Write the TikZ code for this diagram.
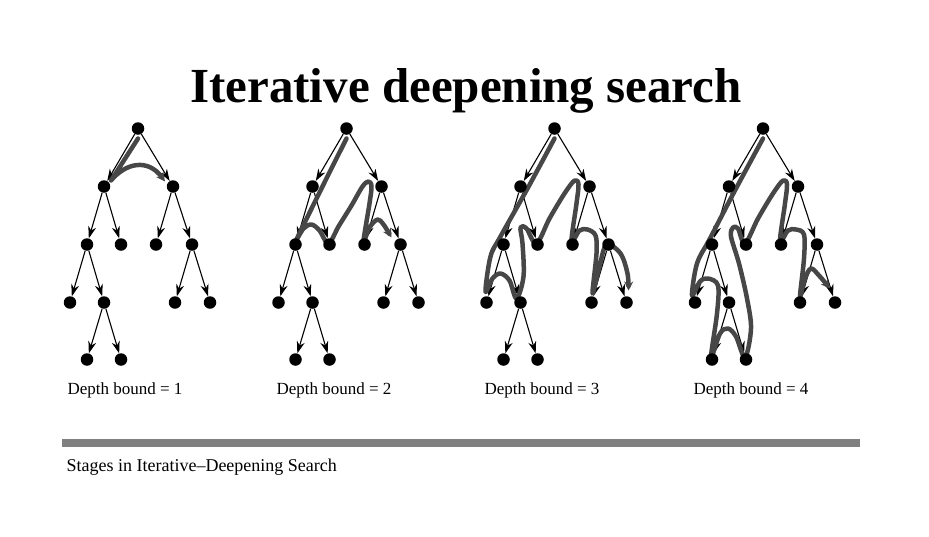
\documentclass[tikz,border=0pt]{standalone}
\usepackage{fontspec}
\setmainfont{Liberation Serif}
\usetikzlibrary{arrows.meta}
\pgfdeclarelayer{edges}
\pgfdeclarelayer{paths}
\pgfsetlayers{edges,paths,main}
\newcommand\idtree[2]{%
\begin{scope}[shift={(#2,128.5)}]
\node[dot] (#1r) at (0,0) {};
\node[dot] (#1a) at (-34,58) {};
\node[dot] (#1b) at (35,58) {};
\node[dot] (#1aa) at (-51,116) {};
\node[dot] (#1ab) at (-17,116) {};
\node[dot] (#1ba) at (18,116) {};
\node[dot] (#1bb) at (54,116) {};
\node[dot] (#1aaa) at (-68,174) {};
\node[dot] (#1aab) at (-34,174) {};
\node[dot] (#1bba) at (37,174) {};
\node[dot] (#1bbb) at (72,174) {};
\node[dot] (#1aaba) at (-51,231) {};
\node[dot] (#1aabb) at (-17,231) {};
\begin{pgfonlayer}{edges}
\foreach \p/\c in {r/a,r/b,a/aa,a/ab,b/ba,b/bb,aa/aaa,aa/aab,bb/bba,bb/bbb,aab/aaba,aab/aabb}
  \draw[edge] (#1\p) -- (#1\c);
\end{pgfonlayer}
\end{scope}}
\begin{document}
\begin{tikzpicture}[x=1pt,y=-1pt,
  dot/.style={circle,fill=black,inner sep=0pt,minimum size=12.5pt},
  edge/.style={-{Stealth[length=12pt,width=8pt]},line width=1.1pt},
  trav/.style={line width=4.5pt,draw=black!72,line cap=round,line join=round},
  travend/.style={trav,-{Stealth[length=9pt,width=9pt]}},
  lab/.style={anchor=base west,font=\fontsize{17}{20}\selectfont},
]
\useasboundingbox (0,0) rectangle (929,536);

\node[anchor=base,font=\fontsize{49}{56}\selectfont\bfseries] (title) at (466,102) {Iterative deepening search};

\idtree{p}{138}
\idtree{q}{346.5}
\idtree{s}{554.5}
\idtree{u}{763}

\begin{pgfonlayer}{paths}
% depth bound 1
\begin{scope}[shift={(138,128.5)}]
\draw[travend] (0,10) -- (-27,52) .. controls (-12,34) and (10,30) .. (27,53);
\end{scope}
% depth bound 2
\begin{scope}[shift={(346.5,128.5)}]
\draw[travend] plot[smooth,tension=0.55] coordinates {(0,10) (-25,60) (-50,111) (-43,100) (-35,96) (-27,102) (-18,115) (-8,98) (5,77) (16,58) (22,53) (25,58) (23,75) (17,113) (23,99) (31,91) (37,96) (45,109)};
\end{scope}
% depth bound 3
\begin{scope}[shift={(554.5,128.5)}]
\draw[travend] plot[smooth,tension=0.55] coordinates {(0,10) (-27,60) (-54,108) (-64,128) (-69,163) (-62,150) (-54,145) (-45,152) (-38,170) (-31,148) (-32,115) (-34,99) (-28,100) (-18,115) (-5,90) (10,65) (20,52) (24,56) (22,75) (17,113) (25,102) (33,101) (41,107) (42,125) (38,165) (45,138) (52,116) (66,125) (73,145) (74,162)};
\end{scope}
% depth bound 4
\begin{scope}[shift={(763,128.5)}]
\draw[travend] plot[smooth,tension=0.55] coordinates {(0,10) (-27,60) (-53,110) (-66,135) (-71,167) (-63,153) (-55,150) (-45,157) (-46,185) (-52,229) (-43,205) (-35,200) (-27,208) (-18,229) (-12,200) (-16,170) (-24,135) (-32,108) (-30,99) (-25,100) (-18,115) (-5,90) (10,65) (20,52) (24,56) (22,75) (17,113) (25,102) (33,101) (41,106) (41,130) (37,168) (42,150) (48,140) (56,147) (67,160)};
\end{scope}
\end{pgfonlayer}

\node[lab] (l1) at (64,394) {Depth bound = 1};
\node[lab] (l2) at (273,394) {Depth bound = 2};
\node[lab] (l3) at (481,394) {Depth bound = 3};
\node[lab] (l4) at (690,394) {Depth bound = 4};

\fill[black!50] (62,439) rectangle (860,447);
\node[anchor=base west,font=\fontsize{18}{22}\selectfont] (cap) at (63,471) {Stages in Iterative--Deepening Search};
\end{tikzpicture}
\end{document}
